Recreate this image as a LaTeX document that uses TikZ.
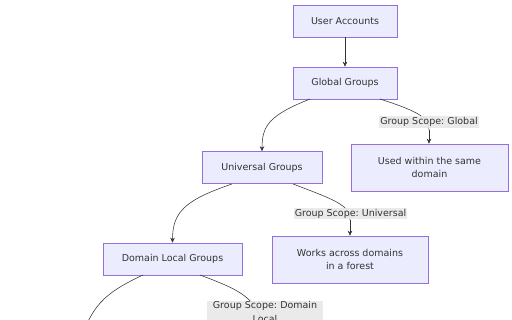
\documentclass[tikz,border=0pt]{standalone}
\usepackage{fontspec}
\setmainfont{DejaVu Sans}
\usetikzlibrary{arrows.meta}
\definecolor{nfill}{HTML}{ECECFF}
\definecolor{nstroke}{HTML}{9370DB}
\definecolor{ntext}{HTML}{333333}
\definecolor{lbg}{HTML}{E8E8E8}
\tikzset{
  box/.style={draw=nstroke, fill=nfill, line width=0.6pt, text=ntext, font=\fontsize{9.5}{13.5}\selectfont\frenchspacing, align=center, inner sep=0pt},
  elabel/.style={fill=lbg, fill opacity=0.9, text opacity=1, text=ntext, font=\fontsize{9.5}{13.5}\selectfont\frenchspacing, align=center, inner sep=1pt},
  conn/.style={draw=ntext, line width=0.55pt, -{Stealth[length=5pt,width=4.5pt]}},
  plainconn/.style={draw=ntext, line width=0.55pt}
}
\begin{document}
\begin{tikzpicture}[x=1pt,y=-1pt]
\clip (0,0) rectangle (512,320);
\node[box, minimum width=104pt, minimum height=32pt] (ua) at (345,21) {User Accounts};
\node[box, minimum width=104pt, minimum height=32pt] (gg) at (345,83) {Global Groups};
\node[box, minimum width=120pt, minimum height=32pt] (ug) at (262,167.5) {Universal Groups};
\node[box, minimum width=157pt, minimum height=47pt] (uw) at (429.5,167.5) {Used within the same\\domain};
\node[box, minimum width=139pt, minimum height=32pt] (dl) at (172.5,259) {Domain Local Groups};
\node[box, minimum width=156pt, minimum height=47pt] (wa) at (350,259.5) {Works across domains\\in a forest};
\coordinate (hidden1) at (78,350);
\coordinate (hidden2) at (265,350);

\draw[conn] (ua) -- (gg);
\draw[conn] (310,99) .. controls (270,115) and (262,125) .. (ug.north);
\draw[plainconn] (380,99) .. controls (420,112) and (429,118) .. (429,130);
\draw[conn] (429,130) -- (uw.north -| 429,0);
\draw[conn] (232,184) .. controls (185,200) and (172.5,212) .. (dl.north);
\draw[plainconn] (293,184) .. controls (335,200) and (350,205) .. (350,220);
\draw[conn] (350,220) -- (wa.north);
\draw[plainconn] (143,275) .. controls (105,293) and (90,305) .. (hidden1);
\draw[plainconn] (200,275) .. controls (245,292) and (265,300) .. (hidden2);

\node[elabel] (l1) at (429,122) {Group Scope: Global};
\node[elabel] (l2) at (350.5,213.5) {Group Scope: Universal};
\node[elabel, text width=114pt] (l3) at (265,312) {Group Scope: Domain\\Local};
\end{tikzpicture}
\end{document}
